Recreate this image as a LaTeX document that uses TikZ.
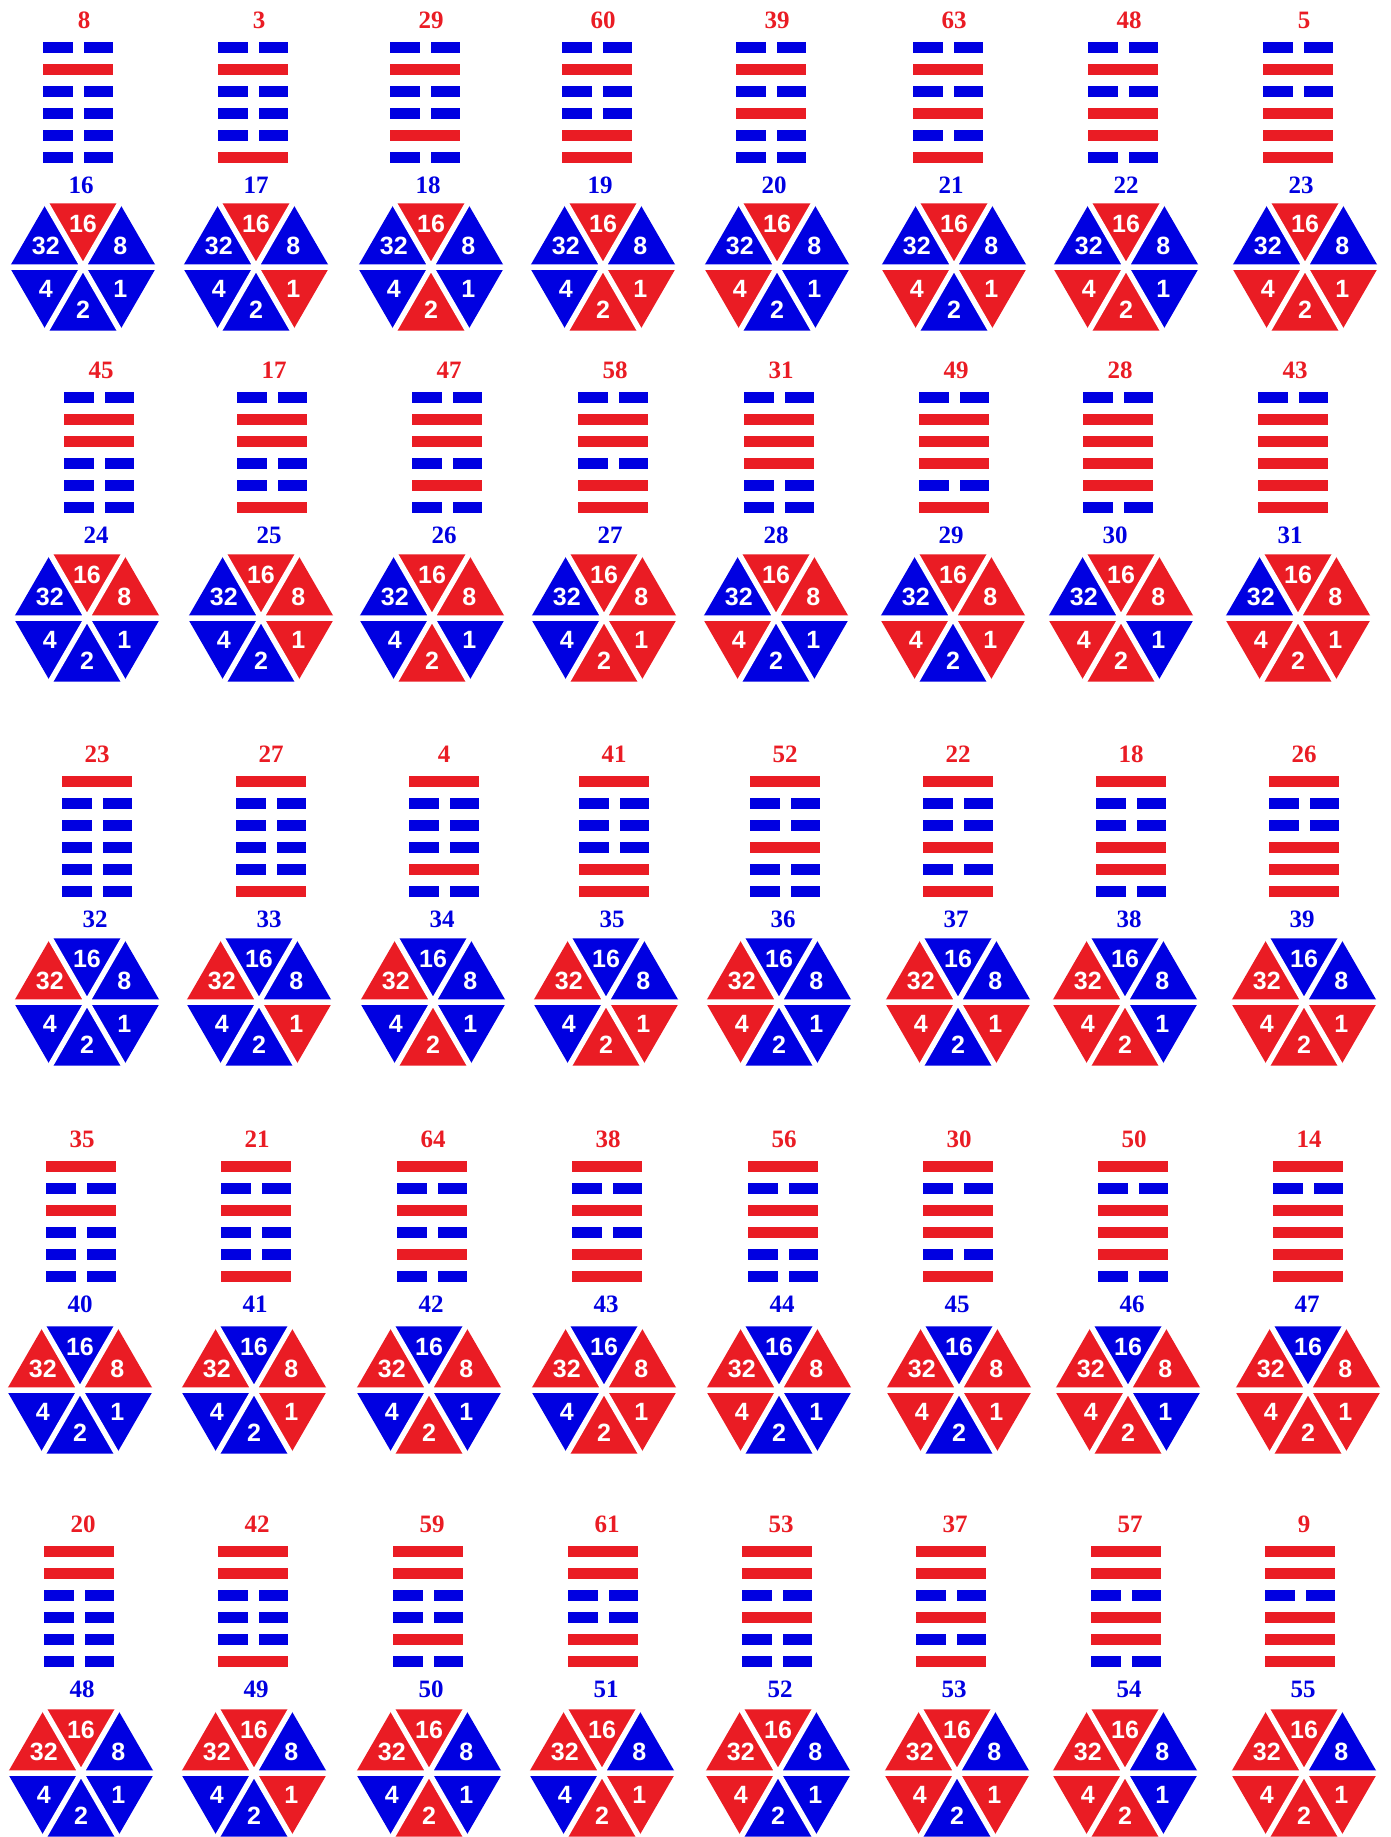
\documentclass[tikz,border=0pt]{standalone}
\usepackage{fontspec}
\newfontfamily\numserif{Liberation Serif}
\newfontfamily\numsans{Liberation Sans}
\usepackage{tikz}
\definecolor{hue0}{RGB}{0,0,225}
\definecolor{hue1}{RGB}{234,28,36}

\begin{document}
\begin{tikzpicture}[
  x=1pt, y=-1pt,
  kwnum/.style={inner sep=0pt, text=hue1,
    font=\numserif\bfseries\fontsize{25}{25}\selectfont},
  idxnum/.style={inner sep=0pt, text=hue0,
    font=\numserif\bfseries\fontsize{25}{25}\selectfont},
  trinum/.style={inner sep=0pt, text=white,
    font=\numsans\bfseries\fontsize{25}{25}\selectfont},
  cut/.style={draw=white, line width=5.5pt}
]
\clip (0,0) rectangle (1390,1837);
\fill[white] (0,0) rectangle (1390,1837);
\foreach \yl/\yg/\dr/\db/\row in {
  47.5/267/6/3/{78/83/8/16, 253/256/3/17, 425/431/29/18, 597/603/60/19,
    771/777/39/20, 948/954/63/21, 1123/1126/48/22, 1298/1305/5/23},
  397.5/618/2/-3/{99/87/45/24, 272/261/17/25, 447/432/47/26, 613/604/58/27,
    779/776/31/28, 954/953/49/29, 1118/1121/28/30, 1293/1298/43/31},
  781/1002/0/-2/{97/87/23/32, 271/259/27/33, 444/433/4/34, 614/606/41/35,
    785/779/52/36, 958/958/22/37, 1131/1125/18/38, 1304/1304/26/39},
  1166/1390/1/-1/{81/80/35/40, 256/254/21/41, 432/429/64/42, 607/604/38/43,
    783/779/56/44, 958/959/30/45, 1133/1128/50/46, 1308/1308/14/47},
  1551/1773/4/3/{79/81/20/48, 253/254/42/49, 428/429/59/50, 603/602/61/51,
    777/778/53/52, 951/957/37/53, 1126/1125/57/54, 1300/1304/9/55}}{
  \foreach \hx/\gx/\kw/\idx in \row {
    \node[kwnum] (k\idx) at (\hx+\dr, \yl-27) {\kw};
    \node[idxnum] (n\idx) at (\hx+\db, \yl+138) {\idx};
    \foreach \w [count=\k from 0] in {32,16,8,4,2,1} {
      \pgfmathtruncatemacro\bit{mod(floor(\idx/\w),2)}
      \ifnum\bit=1
        \fill[hue1] (\hx-35, \yl+22*\k-5.5) rectangle ++(70,11);
      \else
        \fill[hue0] (\hx-35, \yl+22*\k-5.5) rectangle ++(29.5,11);
        \fill[hue0] (\hx+5.5, \yl+22*\k-5.5) rectangle ++(29.5,11);
      \fi
    }
    \begin{scope}[shift={(\gx,\yg)}]
      \foreach \w/\a in {16/240, 8/300, 1/0, 2/60, 4/120, 32/180} {
        \pgfmathtruncatemacro\bit{mod(floor(\idx/\w),2)}
        \fill[hue\bit] (0,0) -- (\a:73.5) -- (\a+60:73.5) -- cycle;
      }
      \draw[cut] (180:75) -- (0:75) (240:75) -- (60:75) (300:75) -- (120:75);
      \foreach \w/\a in {16/240, 8/300, 1/0, 2/60, 4/120, 32/180}
        \node[trinum] (t\idx-\w) at (\a+30:43) {\w};
    \end{scope}
  }
}
\end{tikzpicture}
\end{document}
